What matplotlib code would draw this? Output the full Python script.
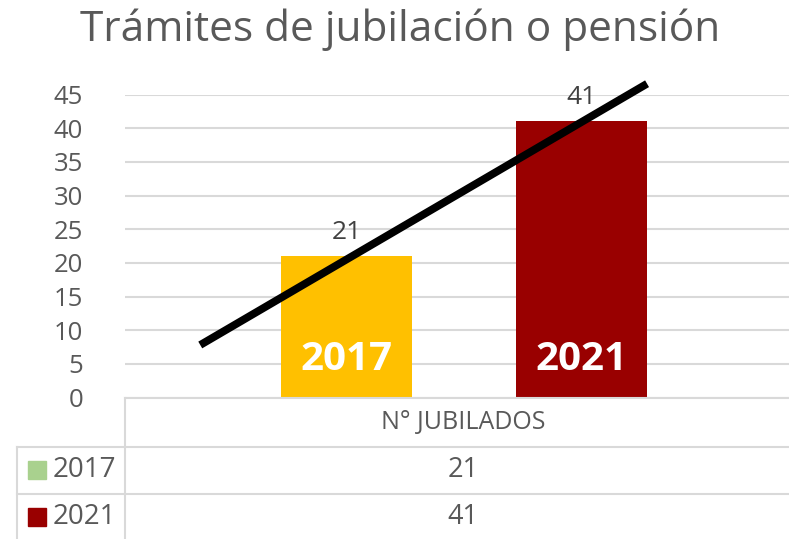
import matplotlib.pyplot as plt
from matplotlib.patches import Rectangle
from matplotlib.lines import Line2D

plt.rcParams['font.family'] = ['Open Sans', 'DejaVu Sans']

# data
title = 'Trámites de jubilación o pensión'
category = 'N° JUBILADOS'
years = ['2017', '2021']
values = [21, 41]
bar_colors = ['#FFC000', '#990000']
key_colors = ['#A9D18E', '#990000']
# hand-drawn trend line (start, end) in data units
trend_x = [-0.389, 0.270]
trend_y = [7.8, 46.6]

W, H = 789, 539
fig = plt.figure(figsize=(W / 100, H / 100), dpi=100)


def fx(px):
    return px / W


def fy(py):
    return 1 - py / H


ax = fig.add_axes([fx(125), fy(397.5), 678 / W, (397.5 - 94.5) / H])

bar_w = 0.193
offsets = [-0.173, 0.173]
for off, v, c, yr in zip(offsets, values, bar_colors, years):
    ax.bar(off, v, width=bar_w, color=c, zorder=2)
    ax.text(off, v + 3.5, str(v), ha='center', va='center', fontsize=19, color='#404040', zorder=4)
    ax.text(off, 5.7, yr, ha='center', va='center', fontsize=29, fontweight='bold',
            color='white', zorder=3)

ax.plot(trend_x, trend_y, color='black', lw=5.6, solid_capstyle='butt', clip_on=False, zorder=5)

ax.set_xlim(-0.5, 0.5)
ax.set_ylim(0, 45)
ax.set_yticks(range(0, 46, 5))
ax.set_xticks([])
ax.tick_params(axis='y', length=0, pad=30, labelsize=18.5, labelcolor='#595959')
ax.grid(axis='y', color='#D9D9D9', lw=1.5, zorder=0)
for s in ax.spines.values():
    s.set_visible(False)

fig.text(fx(400), fy(30), title, ha='center', va='center', fontsize=30.5, color='#595959')

# data table below the axis
lc = '#D9D9D9'
lines = [
    ([125, W], [397.5, 397.5]),
    ([125, 125], [397.5, H]),
    ([17, W], [447, 447]),
    ([17, W], [494, 494]),
    ([17, 17], [447, H]),
]
for xs, ys in lines:
    fig.add_artist(Line2D([fx(x) for x in xs], [fy(y) for y in ys], color=lc, lw=1.5))

fig.text(fx(463), fy(422), category, ha='center', va='center', fontsize=18, color='#595959')
row_y = [470, 517]
for yr, v, kc, ry in zip(years, values, key_colors, row_y):
    fig.add_artist(Rectangle((fx(28), fy(ry + 9)), 18 / W, 18 / H, color=kc,
                             transform=fig.transFigure))
    fig.text(fx(53), fy(ry), yr, ha='left', va='center', fontsize=20, color='#595959')
    fig.text(fx(463), fy(ry), str(v), ha='center', va='center', fontsize=19.5, color='#595959')

fig.savefig('out.png', dpi=100)
